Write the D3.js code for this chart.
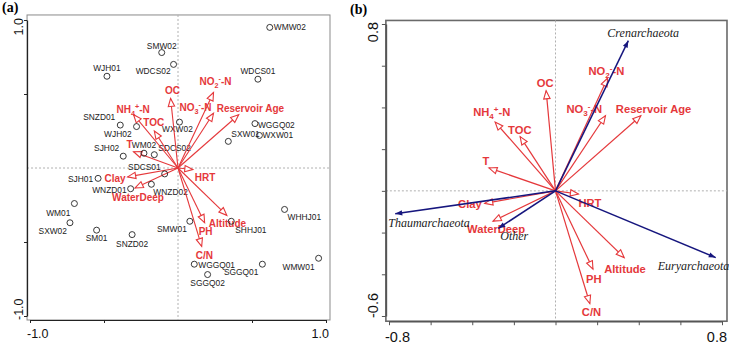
<!DOCTYPE html>
<html>
<head>
<meta charset="utf-8">
<script src="https://cdn.jsdelivr.net/npm/d3@7"></script>
<style>
body { margin: 0; background: #fff; }
svg { display: block; }
</style>
</head>
<body>
<svg id="graph" width="729" height="344"></svg>
<script>
// ---- data ----
// (a) sample sites
var siteNames = ["WMW02","SMW02","WDCS02","WJH01","WDCS01","SNZD01","WJH02","WXW02","SJH02","WM02",
                 "SDCS02","SDCS01","SXW01","WXW01","WGGQ02","SJH01","WNZD01","WNZD02","WM01","SXW02",
                 "SM01","SNZD02","SMW01","SHHJ01","WHHJ01","WGGQ01","SGGQ01","SGGQ02","WMW01"];
var siteX = [0.62,-0.11,-0.03,-0.48,0.54,-0.39,-0.28,0.01,-0.37,-0.23,
             -0.16,-0.09,0.34,0.55,0.52,-0.54,-0.32,-0.18,-0.70,-0.73,
             -0.55,-0.31,0.08,0.36,0.72,0.11,0.57,0.20,0.95];
var siteY = [0.95,0.78,0.70,0.62,0.60,0.29,0.28,0.31,0.08,0.10,
             0.09,-0.04,0.18,0.22,0.30,-0.07,-0.14,-0.11,-0.24,-0.37,
             -0.42,-0.45,-0.36,-0.36,-0.28,-0.65,-0.65,-0.72,-0.61];

// environmental factors (same order in both panels)
var envNames = ["OC","NO_2^--N","NO_3^--N","Reservoir Age","NH_4^+-N","TOC","T","HRT","Clay","WaterDeep","Altitude","PH","C/N"];
var envXa = [-0.05,0.24,0.24,0.41,-0.30,-0.16,-0.30,0.10,-0.34,-0.29,0.33,0.18,0.16];
var envYa = [0.47,0.51,0.37,0.36,0.36,0.25,0.11,-0.01,-0.06,-0.135,-0.32,-0.37,-0.53];
var envXb = [-0.045,0.25,0.24,0.41,-0.29,-0.17,-0.32,0.11,-0.34,-0.30,0.33,0.18,0.165];
var envYb = [0.48,0.54,0.36,0.36,0.33,0.26,0.11,-0.015,-0.06,-0.145,-0.32,-0.375,-0.54];

// (b) archaeal phyla
var taxaNames = ["Crenarchaeota","Thaumarchaeota","Other","Euryarchaeota"];
var taxaX = [0.35,-0.77,-0.275,0.77];
var taxaY = [0.72,-0.11,-0.18,-0.32];

// tick values
var ticksA = [-1,-0.5,0.5,1];
var ticksB = [-0.8,-0.6,-0.4,-0.2,0,0.2,0.4,0.6,0.8];

// ---- label placement (anchor, dx, dy in px) ----
var siteLab = [["start",4,3],["middle",0,-4],["end",-3,10],["middle",0,-5],["middle",0,-5],["end",-5,-5],["end",-5,10],["middle",-2,10],["end",-4,-5],["middle",0,-5],
               ["start",4,-4],["end",-4,-4],["start",3,-4],["start",3,3],["start",3,4],["end",-5,4],["end",-4,4],["start",2,11],["end",-4,12],["end",-3,11],
               ["middle",0,11],["middle",0,12],["end",-3,11],["start",4,12],["start",3,11],["start",4,4],["end",-4,11],["middle",0,11],["end",-4,12]];
var envLabA = [["middle",2,-4],["middle",2,-8],["end",-2,-2],["start",-22,-3],["start",-17,-2],["start",-11,-5],["middle",-4,-4],
               ["start",2,12],["end",-2,5],["start",-23,13],["start",-18,12],["start",-6,12],["start",-6,13]];
var envLabB = [["middle",-1,-4],["start",-19,-3],["start",-39,-3],["start",-25,-3],["start",-22,-6],["start",-12,-3],["middle",-3,-3],
               ["start",0,13],["end",-3,5],["start",-26,12],["start",-20,15],["start",-7,14],["start",-8,13]];
var taxaLab = [["start",-21,-4],["start",-7,13],["start",2,12],["start",-58,12]];

var red = "#e5383b", navy = "#16167e";
var sans = "'Liberation Sans', Arial, sans-serif";
var serif = "'Liberation Serif', 'Times New Roman', serif";

var svg = d3.select("#graph");
var defs = svg.append("defs");
defs.append("marker").attr("id", "openHead")
    .attr("viewBox", "-10 -5 12 10").attr("refX", 0).attr("refY", 0)
    .attr("markerWidth", 12).attr("markerHeight", 10)
    .attr("markerUnits", "userSpaceOnUse").attr("orient", "auto")
    .append("path").attr("d", "M0,0L-8,-3.2L-8,3.2Z")
    .attr("fill", "#fff").attr("stroke", red).attr("stroke-width", 1.1);
defs.append("marker").attr("id", "fillHead")
    .attr("viewBox", "-10 -5 12 10").attr("refX", 0).attr("refY", 0)
    .attr("markerWidth", 12).attr("markerHeight", 10)
    .attr("markerUnits", "userSpaceOnUse").attr("orient", "auto")
    .append("path").attr("d", "M0,0L-7,-2.6L-7,2.6Z").attr("fill", navy);

// text with _sub and ^sup
function richText(sel, s) {
    var parts = s.match(/_.|\^.|[^_^]+/g);
    var shift = 0;
    parts.forEach(function (p) {
        var target = 0, txt = p, small = false;
        if (p[0] == "_") { target = 3; txt = p.slice(1); small = true; }
        else if (p[0] == "^") { target = -4; txt = p.slice(1); small = true; }
        var t = sel.append("tspan").attr("dy", target - shift).text(txt);
        if (small) t.attr("font-size", "0.72em");
        shift = target;
    });
}

function drawArrows(g, x, y, xs, ys, names, lab, opts) {
    var d = xs.map(function (v, i) { return {x: v, y: ys[i], name: names[i], lab: lab[i]}; });
    g.selectAll("line.arr").data(d).enter().append("line")
        .attr("x1", x(0)).attr("y1", y(0))
        .attr("x2", function (e) { return x(e.x); })
        .attr("y2", function (e) { return y(e.y); })
        .attr("stroke", opts.color).attr("stroke-width", opts.width)
        .attr("marker-end", "url(#" + opts.marker + ")");
    g.selectAll("text.lab").data(d).enter().append("text")
        .attr("x", function (e) { return x(e.x) + e.lab[1]; })
        .attr("y", function (e) { return y(e.y) + e.lab[2]; })
        .attr("text-anchor", function (e) { return e.lab[0]; })
        .style("font-family", opts.font).attr("font-size", opts.size)
        .attr("font-weight", opts.weight).attr("font-style", opts.style)
        .attr("fill", opts.textColor)
        .each(function (e) { richText(d3.select(this), e.name); });
}

function frame(g, x, y, dom, stroke, sw) {
    g.append("rect")
        .attr("x", x(dom[0])).attr("y", y(dom[3]))
        .attr("width", x(dom[1]) - x(dom[0])).attr("height", y(dom[2]) - y(dom[3]))
        .attr("fill", "none").attr("stroke", stroke).attr("stroke-width", sw);
    g.append("line").attr("x1", x(0)).attr("x2", x(0)).attr("y1", y(dom[3])).attr("y2", y(dom[2]))
        .attr("stroke", "#b0b0b0").attr("stroke-dasharray", "2,2");
    g.append("line").attr("y1", y(0)).attr("y2", y(0)).attr("x1", x(dom[0])).attr("x2", x(dom[1]))
        .attr("stroke", "#b0b0b0").attr("stroke-dasharray", "2,2");
}

function axes(g, x, y, dom, ticks, tickLen, color, sw) {
    var ax = g.append("g").attr("transform", "translate(0," + y(dom[2]) + ")")
        .call(d3.axisBottom(x).tickValues(ticks).tickSize(tickLen).tickSizeOuter(0).tickFormat(""));
    var ay = g.append("g").attr("transform", "translate(" + x(dom[0]) + ",0)")
        .call(d3.axisLeft(y).tickValues(ticks.filter(function (t) { return t >= y.domain()[0] - 1e-9; }))
            .tickSize(tickLen).tickSizeOuter(0).tickFormat(""));
    [ax, ay].forEach(function (a) {
        a.select(".domain").attr("stroke", color).attr("stroke-width", sw);
        a.selectAll(".tick line").attr("stroke", color).attr("stroke-width", 1);
    });
}

function tickText(g, x, y, txt, size, anchor, rotate) {
    g.append("text")
        .attr("transform", "translate(" + x + "," + y + ")" + (rotate ? " rotate(-90)" : ""))
        .attr("text-anchor", anchor)
        .style("font-family", sans).attr("font-size", size).attr("fill", "#111")
        .text(txt);
}

// ---------------- panel (a) ----------------
var xA = d3.scaleLinear().domain([-1, 1]).range([30, 326]);
var yA = d3.scaleLinear().domain([-1, 1]).range([316, 20]);
var domA = [-1.02, 1.027, -1.027, 1.034];
var gA = svg.append("g");
frame(gA, xA, yA, domA, "#8a8a8a", 1);
axes(gA, xA, yA, domA, ticksA, 3, "#222", 1.2);

tickText(gA, xA(-1) - 3, 338, "-1.0", 12.5, "start", false);
tickText(gA, xA(1) + 3, 338, "1.0", 12.5, "end", false);
tickText(gA, 23, yA(1) - 2, "1.0", 12.5, "end", true);
tickText(gA, 23, yA(-1) + 4, "-1.0", 12.5, "start", true);

var sites = siteNames.map(function (n, i) { return {name: n, x: siteX[i], y: siteY[i], lab: siteLab[i]}; });
gA.selectAll("text.site").data(sites).enter().append("text").attr("class", "site")
    .attr("x", function (d) { return xA(d.x) + d.lab[1]; })
    .attr("y", function (d) { return yA(d.y) + d.lab[2]; })
    .attr("text-anchor", function (d) { return d.lab[0]; })
    .style("font-family", sans).attr("font-size", 8.4).attr("fill", "#222")
    .text(function (d) { return d.name; });

drawArrows(gA, xA, yA, envXa, envYa, envNames, envLabA,
    {color: red, width: 1.1, marker: "openHead", font: sans, size: 10, weight: "bold", style: "normal", textColor: red});

gA.selectAll("circle.site").data(sites).enter().append("circle").attr("class", "site")
    .attr("cx", function (d) { return xA(d.x); })
    .attr("cy", function (d) { return yA(d.y); })
    .attr("r", 3).attr("fill", "none").attr("stroke", "#222").attr("stroke-width", 0.9);

svg.append("text").attr("x", 2).attr("y", 12).style("font-family", serif)
    .attr("font-weight", "bold").attr("font-size", 14).text("(a)");

// ---------------- panel (b) ----------------
var xB = d3.scaleLinear().domain([-0.8, 0.8]).range([389, 722]);
var yB = d3.scaleLinear().domain([-0.6, 0.8]).range([316, 24]);
var domB = [-0.815, 0.824, -0.625, 0.817];
var gB = svg.append("g");
frame(gB, xB, yB, domB, "#6a6a6a", 1.6);
axes(gB, xB, yB, domB, ticksB, 4, "#555", 1.6);

tickText(gB, xB(-0.8) - 4, 342, "-0.8", 14.5, "start", false);
tickText(gB, xB(0.8) + 5, 342, "0.8", 14.5, "end", false);
tickText(gB, 378, yB(0.8) - 2, "0.8", 14.5, "end", true);
tickText(gB, 378, yB(-0.6) + 2, "-0.6", 14.5, "start", true);

drawArrows(gB, xB, yB, envXb, envYb, envNames, envLabB,
    {color: red, width: 1.2, marker: "openHead", font: sans, size: 11.2, weight: "bold", style: "normal", textColor: red});
drawArrows(gB, xB, yB, taxaX, taxaY, taxaNames, taxaLab,
    {color: navy, width: 1.5, marker: "fillHead", font: serif, size: 12, weight: "normal", style: "italic", textColor: "#222"});

svg.append("text").attr("x", 350).attr("y", 14).style("font-family", serif)
    .attr("font-weight", "bold").attr("font-size", 14).text("(b)");
</script>
</body>
</html>
